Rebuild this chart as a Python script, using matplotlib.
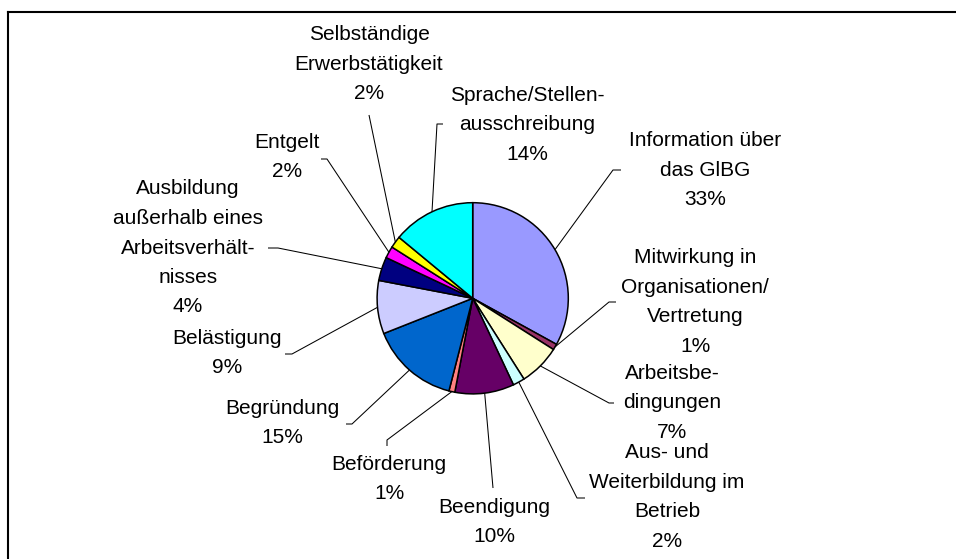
import matplotlib
matplotlib.use("Agg")
import matplotlib.pyplot as plt
import numpy as np

plt.rcParams["font.family"] = ["Liberation Sans", "DejaVu Sans"]

# slice data, clockwise from 12 o'clock
labels = [
    "Information über\ndas GlBG",
    "Mitwirkung in\nOrganisationen/\nVertretung",
    "Arbeitsbe-\ndingungen",
    "Aus- und\nWeiterbildung im\nBetrieb",
    "Beendigung",
    "Beförderung",
    "Begründung",
    "Belästigung",
    "Ausbildung\naußerhalb eines\nArbeitsverhält-\nnisses",
    "Entgelt",
    "Selbständige\nErwerbstätigkeit",
    "Sprache/Stellen-\nausschreibung",
]
shares = [33, 1, 7, 2, 10, 1, 15, 9, 4, 2, 2, 14]
colors = ["#9999FF", "#993366", "#FFFFCC", "#CCFFFF", "#660066", "#FF8080",
          "#0066CC", "#CCCCFF", "#000080", "#FF00FF", "#FFFF00", "#00FFFF"]

# layout in pixels: label centre, leader elbow, leader tick end
W, H = 956, 559
cx, cy, R = 472.7, 298.3, 95.6
label_pos = [(705, 170), (695, 302), (672, 403), (667, 497), (494, 522), (389, 479),
             (282, 423), (227, 353), (188, 248), (287, 157), (369, 64), (527, 125)]
elbows = [(613, 170), (609, 302), (609, 403), (577, 498), (493, 488), (387, 440),
          (352, 424), (292, 354), (278, 248), (327, 159), (369, 115), (437, 124)]
ticks = [(621, 170), (616, 302), (614, 403), (585, 498), None, (387, 446),
         (346, 424), (285, 354), (268, 248), (321, 159), None, (443, 124)]


def px(p):
    return (p[0] - cx) / R, (cy - p[1]) / R


fig = plt.figure(figsize=(W / 100, H / 100), dpi=100)
ax = fig.add_axes([0, 0, 1, 1])

wedges, _ = ax.pie(shares, colors=colors, startangle=90, counterclock=False,
                   radius=1, center=(0, 0), frame=True,
                   wedgeprops=dict(edgecolor="black", linewidth=1.1))
ax.set_xlim(-cx / R, (W - cx) / R)
ax.set_ylim(-(H - cy) / R, cy / R)
ax.set_aspect("auto")
ax.axis("off")

for w, lab, val, lp, el, tk in zip(wedges, labels, shares, label_pos, elbows, ticks):
    mid = np.deg2rad((w.theta1 + w.theta2) / 2)
    xs = [np.cos(mid), px(el)[0]]
    ys = [np.sin(mid), px(el)[1]]
    if tk is not None:
        xs.append(px(tk)[0])
        ys.append(px(tk)[1])
    ax.plot(xs, ys, color="black", linewidth=0.75, solid_capstyle="butt")
    tx, ty = px(lp)
    ax.text(tx, ty, f"{lab}\n{val}%", ha="center", va="center",
            multialignment="center", fontsize=15, linespacing=1.7)

# chart frame (right and bottom edges fall outside the image)
fig.add_artist(plt.Line2D([8 / W, 1], [1 - 12 / H, 1 - 12 / H], color="black", linewidth=1.5))
fig.add_artist(plt.Line2D([8 / W, 8 / W], [0, 1 - 12 / H], color="black", linewidth=1.5))

fig.savefig("out.png", dpi=100)
